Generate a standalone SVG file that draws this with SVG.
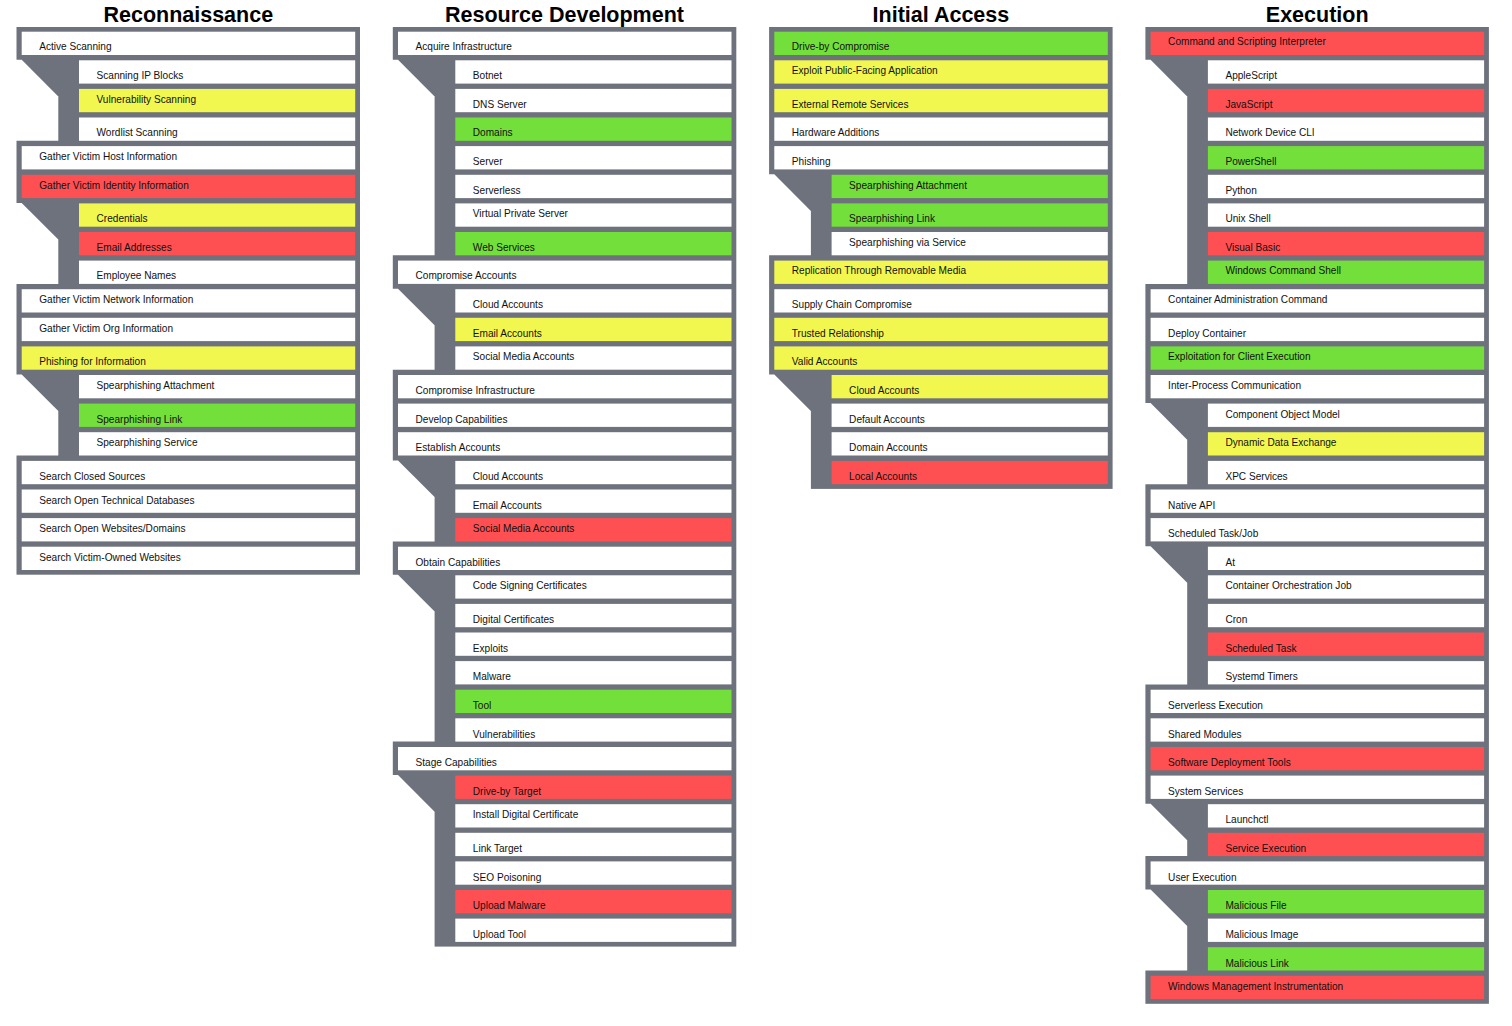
<svg xmlns="http://www.w3.org/2000/svg" width="1512" height="1026" viewBox="0 0 1512 1026">
<style>
  .frame { fill: #6e727c; }
  .notch { fill: #ffffff; }
  .w { fill: #ffffff; }
  .r { fill: #fe5052; }
  .y { fill: #f2f74f; }
  .g { fill: #73df3a; }
  text { font-family: "Liberation Sans", Arial, sans-serif; fill: #111111; }
  .lbl { font-size: 10.1px; }
  .h { font-size: 21.5px; font-weight: bold; text-anchor: middle; fill: #000000; }
</style>
<defs>
  <rect id="tcell" x="5.2" y="0" width="333.5" height="23.3"/>
  <rect id="scell" x="62.5" y="0" width="276.2" height="23.3"/>
</defs>

<rect width="1512" height="1026" fill="#ffffff"/>

<!-- tactic headings -->
<g id="headings">
  <text class="h" x="188.3" y="21.5">Reconnaissance</text>
  <text class="h" x="564.5" y="21.5">Resource Development</text>
  <text class="h" x="940.9" y="21.5">Initial Access</text>
  <text class="h" x="1317.2" y="21.5">Execution</text>
</g>

<!-- gray frames joining techniques to their sub-techniques -->
<g id="connectors">
  <g transform="translate(16.5,0)">
    <rect class="frame" x="0" y="27" width="343.5" height="547.7"/>
    <polygon class="notch" points="-1,59.8 5.2,59.8 41.8,96.4 41.8,140.8 -1,140.8"/>
    <polygon class="notch" points="-1,202.9 5.2,202.9 41.8,239.5 41.8,283.9 -1,283.9"/>
    <polygon class="notch" points="-1,374.5 5.2,374.5 41.8,411.1 41.8,455.5 -1,455.5"/>
  </g>
  <g transform="translate(392.8,0)">
    <rect class="frame" x="0" y="27" width="343.5" height="919.6"/>
    <polygon class="notch" points="-1,59.8 5.2,59.8 41.8,96.4 41.8,255.3 -1,255.3"/>
    <polygon class="notch" points="-1,288.7 5.2,288.7 41.8,325.3 41.8,369.7 -1,369.7"/>
    <polygon class="notch" points="-1,460.4 5.2,460.4 41.8,497 41.8,541.4 -1,541.4"/>
    <polygon class="notch" points="-1,574.8 5.2,574.8 41.8,611.4 41.8,741.6 -1,741.6"/>
    <polygon class="notch" points="-1,775.1 5.2,775.1 41.8,811.7 41.8,948 -1,948"/>
  </g>
  <g transform="translate(769.1,0)">
    <rect class="frame" x="0" y="27" width="343.5" height="461.9"/>
    <polygon class="notch" points="-1,174.3 5.2,174.3 41.8,210.9 41.8,255.3 -1,255.3"/>
    <polygon class="notch" points="-1,374.5 5.2,374.5 41.8,411.1 41.8,490 -1,490"/>
  </g>
  <g transform="translate(1145.4,0)">
    <rect class="frame" x="0" y="27" width="343.5" height="976.8"/>
    <polygon class="notch" points="-1,59.8 5.2,59.8 41.8,96.4 41.8,283.9 -1,283.9"/>
    <polygon class="notch" points="-1,403.1 5.2,403.1 41.8,439.7 41.8,484.2 -1,484.2"/>
    <polygon class="notch" points="-1,546.2 5.2,546.2 41.8,582.8 41.8,684.4 -1,684.4"/>
    <polygon class="notch" points="-1,803.7 5.2,803.7 41.8,840.3 41.8,856.1 -1,856.1"/>
    <polygon class="notch" points="-1,889.5 5.2,889.5 41.8,926.1 41.8,970.5 -1,970.5"/>
  </g>
</g>

<!-- Reconnaissance -->
<g id="col-reconnaissance" transform="translate(16.5,0)">
  <g id="rec-active-scanning"><use href="#tcell" class="w" y="31.7"/><text class="lbl" x="22.7" y="50">Active Scanning</text></g>
  <g id="rec-scanning-ip-blocks"><use href="#scell" class="w" y="60.3"/><text class="lbl" x="80" y="79">Scanning IP Blocks</text></g>
  <g id="rec-vulnerability-scanning"><use href="#scell" class="y" y="88.9"/><text class="lbl" x="80" y="103">Vulnerability Scanning</text></g>
  <g id="rec-wordlist-scanning"><use href="#scell" class="w" y="117.5"/><text class="lbl" x="80" y="136">Wordlist Scanning</text></g>
  <g id="rec-gather-host"><use href="#tcell" class="w" y="146.1"/><text class="lbl" x="22.7" y="160">Gather Victim Host Information</text></g>
  <g id="rec-gather-identity"><use href="#tcell" class="r" y="174.8"/><text class="lbl" x="22.7" y="189">Gather Victim Identity Information</text></g>
  <g id="rec-credentials"><use href="#scell" class="y" y="203.4"/><text class="lbl" x="80" y="222">Credentials</text></g>
  <g id="rec-email-addresses"><use href="#scell" class="r" y="232"/><text class="lbl" x="80" y="251">Email Addresses</text></g>
  <g id="rec-employee-names"><use href="#scell" class="w" y="260.6"/><text class="lbl" x="80" y="279">Employee Names</text></g>
  <g id="rec-gather-network"><use href="#tcell" class="w" y="289.2"/><text class="lbl" x="22.7" y="303">Gather Victim Network Information</text></g>
  <g id="rec-gather-org"><use href="#tcell" class="w" y="317.8"/><text class="lbl" x="22.7" y="332">Gather Victim Org Information</text></g>
  <g id="rec-phishing-info"><use href="#tcell" class="y" y="346.4"/><text class="lbl" x="22.7" y="365">Phishing for Information</text></g>
  <g id="rec-sp-attachment"><use href="#scell" class="w" y="375"/><text class="lbl" x="80" y="389">Spearphishing Attachment</text></g>
  <g id="rec-sp-link"><use href="#scell" class="g" y="403.6"/><text class="lbl" x="80" y="423">Spearphishing Link</text></g>
  <g id="rec-sp-service"><use href="#scell" class="w" y="432.2"/><text class="lbl" x="80" y="446">Spearphishing Service</text></g>
  <g id="rec-closed-sources"><use href="#tcell" class="w" y="460.9"/><text class="lbl" x="22.7" y="480">Search Closed Sources</text></g>
  <g id="rec-open-tech-db"><use href="#tcell" class="w" y="489.5"/><text class="lbl" x="22.7" y="504">Search Open Technical Databases</text></g>
  <g id="rec-open-websites"><use href="#tcell" class="w" y="518.1"/><text class="lbl" x="22.7" y="532">Search Open Websites/Domains</text></g>
  <g id="rec-victim-websites"><use href="#tcell" class="w" y="546.7"/><text class="lbl" x="22.7" y="561">Search Victim-Owned Websites</text></g>
</g>

<!-- Resource Development -->
<g id="col-resource-development" transform="translate(392.8,0)">
  <g id="rd-acquire-infra"><use href="#tcell" class="w" y="31.7"/><text class="lbl" x="22.7" y="50">Acquire Infrastructure</text></g>
  <g id="rd-botnet"><use href="#scell" class="w" y="60.3"/><text class="lbl" x="80" y="79">Botnet</text></g>
  <g id="rd-dns-server"><use href="#scell" class="w" y="88.9"/><text class="lbl" x="80" y="108">DNS Server</text></g>
  <g id="rd-domains"><use href="#scell" class="g" y="117.5"/><text class="lbl" x="80" y="136">Domains</text></g>
  <g id="rd-server"><use href="#scell" class="w" y="146.1"/><text class="lbl" x="80" y="165">Server</text></g>
  <g id="rd-serverless"><use href="#scell" class="w" y="174.8"/><text class="lbl" x="80" y="194">Serverless</text></g>
  <g id="rd-vps"><use href="#scell" class="w" y="203.4"/><text class="lbl" x="80" y="217">Virtual Private Server</text></g>
  <g id="rd-web-services"><use href="#scell" class="g" y="232"/><text class="lbl" x="80" y="251">Web Services</text></g>
  <g id="rd-compromise-accounts"><use href="#tcell" class="w" y="260.6"/><text class="lbl" x="22.7" y="279">Compromise Accounts</text></g>
  <g id="rd-ca-cloud"><use href="#scell" class="w" y="289.2"/><text class="lbl" x="80" y="308">Cloud Accounts</text></g>
  <g id="rd-ca-email"><use href="#scell" class="y" y="317.8"/><text class="lbl" x="80" y="337">Email Accounts</text></g>
  <g id="rd-ca-social"><use href="#scell" class="w" y="346.4"/><text class="lbl" x="80" y="360">Social Media Accounts</text></g>
  <g id="rd-compromise-infra"><use href="#tcell" class="w" y="375"/><text class="lbl" x="22.7" y="394">Compromise Infrastructure</text></g>
  <g id="rd-develop-capabilities"><use href="#tcell" class="w" y="403.6"/><text class="lbl" x="22.7" y="423">Develop Capabilities</text></g>
  <g id="rd-establish-accounts"><use href="#tcell" class="w" y="432.2"/><text class="lbl" x="22.7" y="451">Establish Accounts</text></g>
  <g id="rd-ea-cloud"><use href="#scell" class="w" y="460.9"/><text class="lbl" x="80" y="480">Cloud Accounts</text></g>
  <g id="rd-ea-email"><use href="#scell" class="w" y="489.5"/><text class="lbl" x="80" y="509">Email Accounts</text></g>
  <g id="rd-ea-social"><use href="#scell" class="r" y="518.1"/><text class="lbl" x="80" y="532">Social Media Accounts</text></g>
  <g id="rd-obtain-capabilities"><use href="#tcell" class="w" y="546.7"/><text class="lbl" x="22.7" y="566">Obtain Capabilities</text></g>
  <g id="rd-code-signing"><use href="#scell" class="w" y="575.3"/><text class="lbl" x="80" y="589">Code Signing Certificates</text></g>
  <g id="rd-digital-certs"><use href="#scell" class="w" y="603.9"/><text class="lbl" x="80" y="623">Digital Certificates</text></g>
  <g id="rd-exploits"><use href="#scell" class="w" y="632.5"/><text class="lbl" x="80" y="652">Exploits</text></g>
  <g id="rd-malware"><use href="#scell" class="w" y="661.1"/><text class="lbl" x="80" y="680">Malware</text></g>
  <g id="rd-tool"><use href="#scell" class="g" y="689.7"/><text class="lbl" x="80" y="709">Tool</text></g>
  <g id="rd-vulnerabilities"><use href="#scell" class="w" y="718.3"/><text class="lbl" x="80" y="738">Vulnerabilities</text></g>
  <g id="rd-stage-capabilities"><use href="#tcell" class="w" y="747"/><text class="lbl" x="22.7" y="766">Stage Capabilities</text></g>
  <g id="rd-driveby-target"><use href="#scell" class="r" y="775.6"/><text class="lbl" x="80" y="795">Drive-by Target</text></g>
  <g id="rd-install-cert"><use href="#scell" class="w" y="804.2"/><text class="lbl" x="80" y="818">Install Digital Certificate</text></g>
  <g id="rd-link-target"><use href="#scell" class="w" y="832.8"/><text class="lbl" x="80" y="852">Link Target</text></g>
  <g id="rd-seo-poisoning"><use href="#scell" class="w" y="861.4"/><text class="lbl" x="80" y="881">SEO Poisoning</text></g>
  <g id="rd-upload-malware"><use href="#scell" class="r" y="890"/><text class="lbl" x="80" y="909">Upload Malware</text></g>
  <g id="rd-upload-tool"><use href="#scell" class="w" y="918.6"/><text class="lbl" x="80" y="938">Upload Tool</text></g>
</g>

<!-- Initial Access -->
<g id="col-initial-access" transform="translate(769.1,0)">
  <g id="ia-driveby"><use href="#tcell" class="g" y="31.7"/><text class="lbl" x="22.7" y="50">Drive-by Compromise</text></g>
  <g id="ia-exploit-public"><use href="#tcell" class="y" y="60.3"/><text class="lbl" x="22.7" y="74">Exploit Public-Facing Application</text></g>
  <g id="ia-external-remote"><use href="#tcell" class="y" y="88.9"/><text class="lbl" x="22.7" y="108">External Remote Services</text></g>
  <g id="ia-hardware"><use href="#tcell" class="w" y="117.5"/><text class="lbl" x="22.7" y="136">Hardware Additions</text></g>
  <g id="ia-phishing"><use href="#tcell" class="w" y="146.1"/><text class="lbl" x="22.7" y="165">Phishing</text></g>
  <g id="ia-sp-attachment"><use href="#scell" class="g" y="174.8"/><text class="lbl" x="80" y="189">Spearphishing Attachment</text></g>
  <g id="ia-sp-link"><use href="#scell" class="g" y="203.4"/><text class="lbl" x="80" y="222">Spearphishing Link</text></g>
  <g id="ia-sp-service"><use href="#scell" class="w" y="232"/><text class="lbl" x="80" y="246">Spearphishing via Service</text></g>
  <g id="ia-removable-media"><use href="#tcell" class="y" y="260.6"/><text class="lbl" x="22.7" y="274">Replication Through Removable Media</text></g>
  <g id="ia-supply-chain"><use href="#tcell" class="w" y="289.2"/><text class="lbl" x="22.7" y="308">Supply Chain Compromise</text></g>
  <g id="ia-trusted-rel"><use href="#tcell" class="y" y="317.8"/><text class="lbl" x="22.7" y="337">Trusted Relationship</text></g>
  <g id="ia-valid-accounts"><use href="#tcell" class="y" y="346.4"/><text class="lbl" x="22.7" y="365">Valid Accounts</text></g>
  <g id="ia-va-cloud"><use href="#scell" class="y" y="375"/><text class="lbl" x="80" y="394">Cloud Accounts</text></g>
  <g id="ia-va-default"><use href="#scell" class="w" y="403.6"/><text class="lbl" x="80" y="423">Default Accounts</text></g>
  <g id="ia-va-domain"><use href="#scell" class="w" y="432.2"/><text class="lbl" x="80" y="451">Domain Accounts</text></g>
  <g id="ia-va-local"><use href="#scell" class="r" y="460.9"/><text class="lbl" x="80" y="480">Local Accounts</text></g>
</g>

<!-- Execution -->
<g id="col-execution" transform="translate(1145.4,0)">
  <g id="ex-csi"><use href="#tcell" class="r" y="31.7"/><text class="lbl" x="22.7" y="45">Command and Scripting Interpreter</text></g>
  <g id="ex-applescript"><use href="#scell" class="w" y="60.3"/><text class="lbl" x="80" y="79">AppleScript</text></g>
  <g id="ex-javascript"><use href="#scell" class="r" y="88.9"/><text class="lbl" x="80" y="108">JavaScript</text></g>
  <g id="ex-netdev-cli"><use href="#scell" class="w" y="117.5"/><text class="lbl" x="80" y="136">Network Device CLI</text></g>
  <g id="ex-powershell"><use href="#scell" class="g" y="146.1"/><text class="lbl" x="80" y="165">PowerShell</text></g>
  <g id="ex-python"><use href="#scell" class="w" y="174.8"/><text class="lbl" x="80" y="194">Python</text></g>
  <g id="ex-unix-shell"><use href="#scell" class="w" y="203.4"/><text class="lbl" x="80" y="222">Unix Shell</text></g>
  <g id="ex-visual-basic"><use href="#scell" class="r" y="232"/><text class="lbl" x="80" y="251">Visual Basic</text></g>
  <g id="ex-win-cmd"><use href="#scell" class="g" y="260.6"/><text class="lbl" x="80" y="274">Windows Command Shell</text></g>
  <g id="ex-container-admin"><use href="#tcell" class="w" y="289.2"/><text class="lbl" x="22.7" y="303">Container Administration Command</text></g>
  <g id="ex-deploy-container"><use href="#tcell" class="w" y="317.8"/><text class="lbl" x="22.7" y="337">Deploy Container</text></g>
  <g id="ex-client-exec"><use href="#tcell" class="g" y="346.4"/><text class="lbl" x="22.7" y="360">Exploitation for Client Execution</text></g>
  <g id="ex-ipc"><use href="#tcell" class="w" y="375"/><text class="lbl" x="22.7" y="389">Inter-Process Communication</text></g>
  <g id="ex-com"><use href="#scell" class="w" y="403.6"/><text class="lbl" x="80" y="418">Component Object Model</text></g>
  <g id="ex-dde"><use href="#scell" class="y" y="432.2"/><text class="lbl" x="80" y="446">Dynamic Data Exchange</text></g>
  <g id="ex-xpc"><use href="#scell" class="w" y="460.9"/><text class="lbl" x="80" y="480">XPC Services</text></g>
  <g id="ex-native-api"><use href="#tcell" class="w" y="489.5"/><text class="lbl" x="22.7" y="509">Native API</text></g>
  <g id="ex-sched-task-job"><use href="#tcell" class="w" y="518.1"/><text class="lbl" x="22.7" y="537">Scheduled Task/Job</text></g>
  <g id="ex-at"><use href="#scell" class="w" y="546.7"/><text class="lbl" x="80" y="566">At</text></g>
  <g id="ex-container-orch"><use href="#scell" class="w" y="575.3"/><text class="lbl" x="80" y="589">Container Orchestration Job</text></g>
  <g id="ex-cron"><use href="#scell" class="w" y="603.9"/><text class="lbl" x="80" y="623">Cron</text></g>
  <g id="ex-sched-task"><use href="#scell" class="r" y="632.5"/><text class="lbl" x="80" y="652">Scheduled Task</text></g>
  <g id="ex-systemd"><use href="#scell" class="w" y="661.1"/><text class="lbl" x="80" y="680">Systemd Timers</text></g>
  <g id="ex-serverless"><use href="#tcell" class="w" y="689.7"/><text class="lbl" x="22.7" y="709">Serverless Execution</text></g>
  <g id="ex-shared-modules"><use href="#tcell" class="w" y="718.3"/><text class="lbl" x="22.7" y="738">Shared Modules</text></g>
  <g id="ex-software-deploy"><use href="#tcell" class="r" y="747"/><text class="lbl" x="22.7" y="766">Software Deployment Tools</text></g>
  <g id="ex-system-services"><use href="#tcell" class="w" y="775.6"/><text class="lbl" x="22.7" y="795">System Services</text></g>
  <g id="ex-launchctl"><use href="#scell" class="w" y="804.2"/><text class="lbl" x="80" y="823">Launchctl</text></g>
  <g id="ex-service-exec"><use href="#scell" class="r" y="832.8"/><text class="lbl" x="80" y="852">Service Execution</text></g>
  <g id="ex-user-exec"><use href="#tcell" class="w" y="861.4"/><text class="lbl" x="22.7" y="881">User Execution</text></g>
  <g id="ex-mal-file"><use href="#scell" class="g" y="890"/><text class="lbl" x="80" y="909">Malicious File</text></g>
  <g id="ex-mal-image"><use href="#scell" class="w" y="918.6"/><text class="lbl" x="80" y="938">Malicious Image</text></g>
  <g id="ex-mal-link"><use href="#scell" class="g" y="947.2"/><text class="lbl" x="80" y="967">Malicious Link</text></g>
  <g id="ex-wmi"><use href="#tcell" class="r" y="975.8"/><text class="lbl" x="22.7" y="990">Windows Management Instrumentation</text></g>
</g>
</svg>
